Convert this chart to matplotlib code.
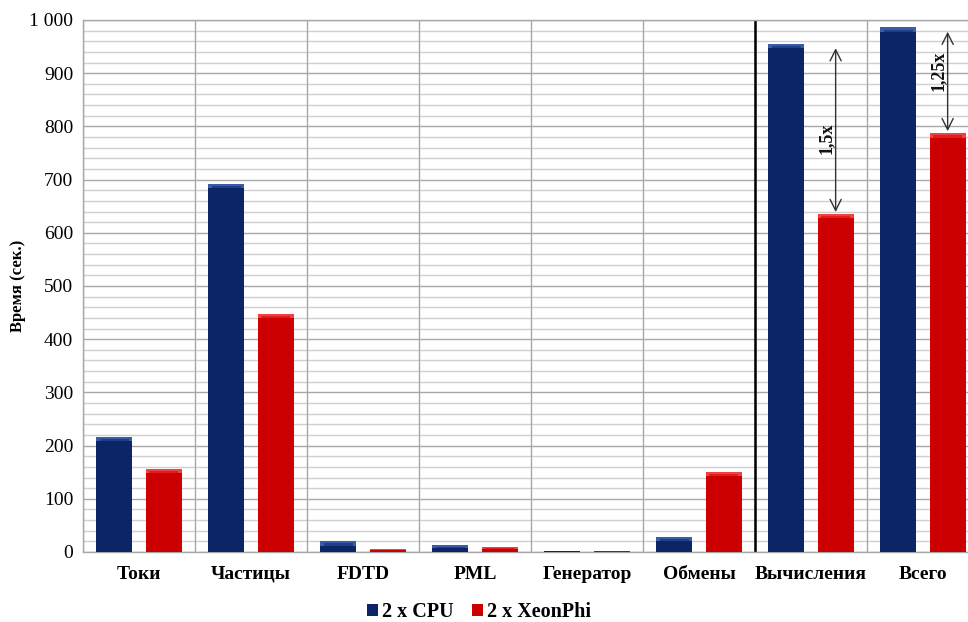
import matplotlib
matplotlib.use("Agg")
import matplotlib.pyplot as plt
from matplotlib.patches import Patch
import numpy as np

plt.rcParams['font.family'] = ['Liberation Serif', 'DejaVu Serif']

categories = ["Токи", "Частицы", "FDTD", "PML", "Генератор", "Обмены", "Вычисления", "Всего"]
cpu = [216, 692, 20, 13, 2, 28, 955, 986]
xeon = [156, 447, 6, 10, 2, 150, 635, 787]
series_names = ["2 x CPU", "2 x XeonPhi"]
yticks = [0, 100, 200, 300, 400, 500, 600, 700, 800, 900, 1000]
ytick_labels = ["0", "100", "200", "300", "400", "500", "600", "700", "800", "900", "1 000"]

speedups = [
    # (category index, from, to, label, label height)
    (6, 955, 635, "1,5x", 778),
    (7, 986, 787, "1,25x", 905),
]

CPU_COLOR = "#0b2566"
CPU_TOP = "#3a5ba8"
XEON_COLOR = "#cc0000"
XEON_TOP = "#f04040"

W, H = 968, 622
fig = plt.figure(figsize=(W / 100, H / 100), dpi=100)
left, right, top, bottom = 83, 979, 20, 552
ax = fig.add_axes([left / W, 1 - bottom / H, (right - left) / W, (bottom - top) / H])

n = len(categories)
x = np.arange(n)
off = 0.22
bw = 0.32

ax.set_xlim(-0.5, n - 0.5)
ax.set_ylim(0, 1000)

# grid: minor every 20, major every 100, vertical separators between categories
for v in range(0, 1001, 20):
    major = v % 100 == 0
    ax.axhline(v, color="#a8a8a8" if major else "#cfcfcf", lw=1.0, zorder=0)
for b in np.arange(-0.5, n, 1.0):
    ax.axvline(b, color="#a8a8a8", lw=1.0, zorder=0)
ax.axvline(5.5, color="black", lw=1.8, zorder=1)


def bevel_bars(xs, vals, base, light):
    ax.bar(xs, vals, width=bw, color=base, edgecolor="none", zorder=3)
    for xi, v in zip(xs, vals):
        bev = min(8.0, 0.45 * v)
        ax.bar(xi, bev, bottom=v - bev, width=bw, color=light, edgecolor="none", zorder=4)
        ax.bar(xi, bev * 0.5, bottom=v - bev, width=bw * 0.8, color=base, edgecolor="none",
               alpha=0.5, zorder=5)


bevel_bars(x - off, cpu, CPU_COLOR, CPU_TOP)
bevel_bars(x + off, xeon, XEON_COLOR, XEON_TOP)

# speedup arrows above the XeonPhi bars
for i, y0, y1, lab, ly in speedups:
    ax_x = i + off
    ax.annotate("", xy=(ax_x, y0 - 8), xytext=(ax_x, y1 + 4),
                arrowprops=dict(arrowstyle="<->", color="#333333", lw=1.0,
                                mutation_scale=20, shrinkA=0, shrinkB=0), zorder=6)
    ax.text(ax_x - 0.085, ly, lab, rotation=90,
            ha="center", va="center", fontsize=13, fontweight="bold", zorder=7,
            color="#111111")

ax.set_yticks(yticks)
ax.set_yticklabels(ytick_labels, fontsize=14)
ax.set_xticks(x)
ax.set_xticklabels(categories, fontsize=14, fontweight="bold")
ax.tick_params(axis="both", length=0)
ax.tick_params(axis="y", pad=7)
ax.tick_params(axis="x", pad=10)
for s in ax.spines.values():
    s.set_color("#a8a8a8")
    s.set_linewidth(1.0)

fig.text(18 / W, 1 - 286 / H, "Время (сек.)", rotation=90, ha="center", va="center",
         fontsize=12, fontweight="bold")

handles = [Patch(facecolor=CPU_COLOR, edgecolor="none"),
           Patch(facecolor=XEON_COLOR, edgecolor="none")]
fig.legend(handles, series_names, loc="center", bbox_to_anchor=(479 / W, 1 - 612 / H),
           ncol=2, frameon=False, prop=dict(size=14.5, weight="bold"),
           handlelength=0.55, handleheight=0.55, handletextpad=0.2, columnspacing=0.9)

fig.savefig("out.png", dpi=100)
